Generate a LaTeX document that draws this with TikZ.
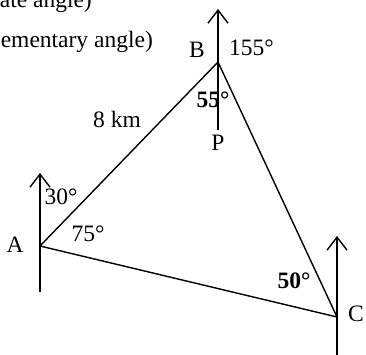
\documentclass[tikz,border=0pt]{standalone}
\usepackage{fontspec}
\setmainfont{Liberation Serif}
\usetikzlibrary{arrows.meta}
\definecolor{FigureInk}{HTML}{000000}
\tikzset{
  figure/.style={x=1pt,y=-1pt,font=\fontsize{23.5}{27}\selectfont,text=FigureInk},
  course/.style={line width=1.4pt,draw=FigureInk,line join=miter},
  north/.style={course,-{Straight Barb[length=13pt,width=20pt]}},
  tag/.style={inner sep=0pt},
}

\begin{document}
\begin{tikzpicture}[figure]
  \useasboundingbox (0,0) rectangle (366,354);

  % ports of the course
  \coordinate (A) at (40,246);
  \coordinate (B) at (218,62);
  \coordinate (C) at (337,317);
  \coordinate (P) at (218,130);
  \coordinate (Abase) at (40,292);
  \coordinate (Anorth) at (40,173);
  \coordinate (Bnorth) at (218,9);
  \coordinate (Cbase) at (337,356);
  \coordinate (Cnorth) at (337,236);

  \draw[course] (A) -- (B) -- (C) -- cycle;
  \draw[north] (Abase) -- (Anorth);
  \draw[north] (P) -- (Bnorth);
  \draw[north] (Cbase) -- (Cnorth);

  % cut-off notes at top left
  \node[anchor=base east,tag] (alternate) at (92,7) {ate angle)};
  \node[anchor=base east,tag] (supplementary) at (153,47) {ementary angle)};

  \node[tag] (labelA) at (15,245) {A};
  \node[tag] (labelB) at (197,50) {B};
  \node[tag,anchor=west] (labelC) at (348,314) {C};
  \node[tag] (labelP) at (218,143) {P};
  \node[tag] (distance) at (117,119) {8 km};

  \node[tag] (angleAN) at (61,197) {30°};
  \node[tag] (angleA) at (88,234) {75°};
  \node[tag,anchor=west] (angleBN) at (229,48) {155°};
  \node[tag,font=\fontsize{23.5}{27}\selectfont\bfseries] (angleB) at (213,100) {55°};
  \node[tag,font=\fontsize{23.5}{27}\selectfont\bfseries] (angleC) at (294,281) {50°};
\end{tikzpicture}
\end{document}
